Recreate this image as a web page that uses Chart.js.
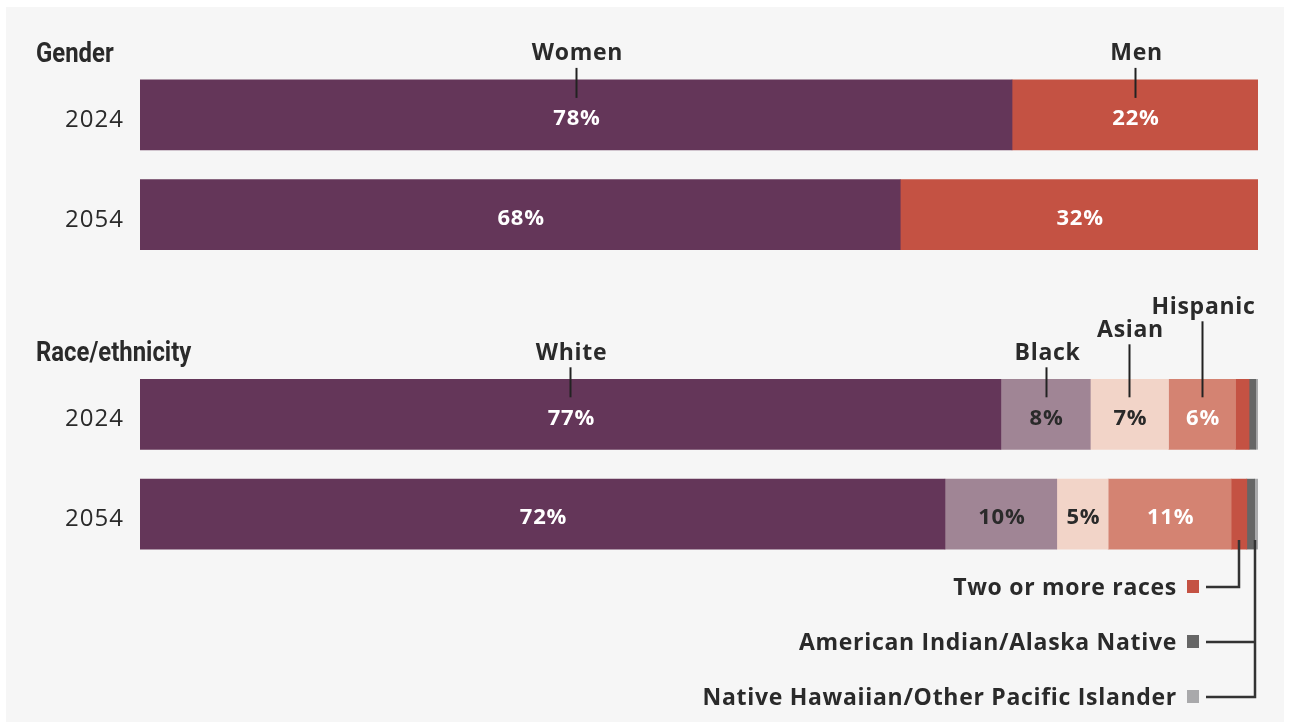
<!DOCTYPE html>
<html>
<head>
<meta charset="utf-8">
<script src="https://cdn.jsdelivr.net/npm/chart.js@4.4.1/dist/chart.umd.min.js"></script>
<style>
  html, body { margin: 0; padding: 0; background: #ffffff; }
  #wrap { position: absolute; left: 0; top: 0; width: 1290px; height: 722px; }
  #panel { position: absolute; left: 6px; top: 7px; width: 1278px; height: 715px; background: #f6f6f6; }
  canvas { position: absolute; left: 0; top: 0; }
</style>
</head>
<body>
<div id="wrap">
  <div id="panel"></div>
  <canvas id="chart" width="1290" height="722"></canvas>
</div>
<script>
// rows on the y axis (blank row separates the two groups)
const rowLabels = ['2024', '2054', '', '2024', '2054'];

// Gender (2024, 2054)
const women = [78, 68];
const men = [22, 32];

// Race/ethnicity (2024, 2054)
const white = [77, 72];
const black = [8, 10];
const asian = [7, 4.6];
const hispanic = [6, 11];
const twoOrMore = [1.2, 1.4];
const aian = [0.6, 0.7];
const nhpi = [0.25, 0.35];

const FONT = "'Open Sans', sans-serif";
const DARK = '#2a2a2a';

function genderRows(vals) { return [vals[0], vals[1], null, null, null]; }
function raceRows(vals) { return [null, null, null, vals[0], vals[1]]; }

const series = [
    { name: 'Women', rows: genderRows(women), color: '#643659', text: '#ffffff', label: true },
    { name: 'Men', rows: genderRows(men), color: '#c45243', text: '#ffffff', label: true },
    { name: 'White', rows: raceRows(white), color: '#643659', text: '#ffffff', label: true },
    { name: 'Black', rows: raceRows(black), color: '#a08595', text: DARK, label: true },
    { name: 'Asian', rows: raceRows(asian), color: '#f2d4c8', text: DARK, label: true },
    { name: 'Hispanic', rows: raceRows(hispanic), color: '#d48372', text: '#ffffff', label: true },
    { name: 'Two or more races', rows: raceRows(twoOrMore), color: '#c45243', label: false },
    { name: 'American Indian/Alaska Native', rows: raceRows(aian), color: '#666666', label: false },
    { name: 'Native Hawaiian/Other Pacific Islander', rows: raceRows(nhpi), color: '#a9a9ab', label: false }
];

// names above the first bar of each group, with stagger level
const callouts = [
    { ds: 0, row: 0, level: 0 },
    { ds: 1, row: 0, level: 0 },
    { ds: 2, row: 3, level: 0 },
    { ds: 3, row: 3, level: 0 },
    { ds: 4, row: 3, level: 1 },
    { ds: 5, row: 3, level: 2 }
];

const overlayPlugin = {
    id: 'overlay',
    beforeDraw(chart) {
        // wider text, closer to the original typeface
        chart.ctx.letterSpacing = '1px';
    },
    afterDatasetsDraw(chart) {
        const ctx = chart.ctx;
        ctx.save();

        // group titles (condensed)
        ctx.fillStyle = DARK;
        ctx.textAlign = 'left';
        ctx.textBaseline = 'alphabetic';
        ctx.letterSpacing = '0px';
        ctx.font = "bold 27px 'Roboto', sans-serif";
        const r0 = chart.getDatasetMeta(0).data[0];
        const r3 = chart.getDatasetMeta(2).data[3];
        [['Gender', r0], ['Race/ethnicity', r3]].forEach(([t, bar]) => {
            ctx.save();
            ctx.translate(36, bar.y - bar.height / 2 - 18);
            ctx.scale(0.885, 1);
            ctx.fillText(t, 0, 0);
            ctx.restore();
        });

        // values inside bars
        ctx.letterSpacing = '0.8px';
        ctx.font = '700 22px ' + FONT;
        ctx.textAlign = 'center';
        ctx.textBaseline = 'middle';
        series.forEach((s, di) => {
            if (!s.label) return;
            chart.getDatasetMeta(di).data.forEach((bar, i) => {
                if (s.rows[i] == null) return;
                ctx.fillStyle = s.text;
                ctx.fillText(Math.round(s.rows[i]) + '%', (bar.x + bar.base) / 2 + 1, bar.y + 4);
            });
        });

        // callout names with leader lines
        ctx.letterSpacing = '0.7px';
        ctx.font = '700 23px ' + FONT;
        ctx.strokeStyle = '#222222';
        ctx.lineWidth = 2;
        callouts.forEach(c => {
            const bar = chart.getDatasetMeta(c.ds).data[c.row];
            const cx = Math.round((bar.x + bar.base) / 2) + 0.5;
            const top = bar.y - bar.height / 2;
            const ty = top - 26 - c.level * 23;
            ctx.fillStyle = DARK;
            ctx.fillText(series[c.ds].name, cx + 1, ty);
            ctx.beginPath();
            ctx.moveTo(cx, ty + 14);
            ctx.lineTo(cx, top + 18);
            ctx.stroke();
        });

        // legend for the thin segments, wired to the 2054 bar
        const legendX = 1176;
        const legendY = [588, 643, 698];
        const wireX = [];
        [6, 7, 8].forEach((di, k) => {
            const bar = chart.getDatasetMeta(di).data[4];
            wireX.push(k === 0 ? Math.round((bar.x + bar.base) / 2) : Math.round(chart.getDatasetMeta(7).data[4].x));
            ctx.fillStyle = DARK;
            ctx.textAlign = 'right';
            ctx.fillText(series[di].name, legendX + 1, legendY[k]);
            ctx.fillStyle = series[di].color;
            ctx.fillRect(legendX + 11, legendY[k] - 8, 12, 13);
        });
        const barBottom = chart.getDatasetMeta(6).data[4];
        const wireTop = barBottom.y + barBottom.height / 2 - 9;
        ctx.strokeStyle = '#333333';
        ctx.lineWidth = 2.5;
        ctx.beginPath();
        ctx.moveTo(legendX + 30, legendY[0] - 1);
        ctx.lineTo(wireX[0], legendY[0] - 1);
        ctx.lineTo(wireX[0], wireTop);
        ctx.moveTo(legendX + 30, legendY[1] - 1);
        ctx.lineTo(wireX[1], legendY[1] - 1);
        ctx.moveTo(legendX + 30, legendY[2] - 1);
        ctx.lineTo(wireX[2], legendY[2] - 1);
        ctx.lineTo(wireX[2], wireTop);
        ctx.stroke();

        ctx.restore();
    },
    afterDraw(chart) {
        chart.ctx.letterSpacing = '0px';
    }
};

const ctx = document.getElementById('chart').getContext('2d');
const chart = new Chart(ctx, {
    type: 'bar',
    data: {
        labels: rowLabels,
        datasets: series.map(s => ({
            label: s.name,
            data: s.rows,
            backgroundColor: s.color,
            borderWidth: 0,
            barThickness: 70
        }))
    },
    options: {
        indexAxis: 'y',
        responsive: false,
        animation: false,
        layout: { padding: { top: 65, bottom: 158, left: 0, right: 32 } },
        plugins: {
            legend: { display: false },
            tooltip: { enabled: false }
        },
        scales: {
            x: { stacked: true, min: 0, max: 100, display: false },
            y: {
                stacked: true,
                grid: { display: false },
                border: { display: false },
                ticks: { color: DARK, font: { family: FONT, size: 24 }, padding: 8, labelOffset: 5 },
                afterFit(scale) { scale.width = 140; }
            }
        }
    },
    plugins: [overlayPlugin]
});
</script>
</body>
</html>
